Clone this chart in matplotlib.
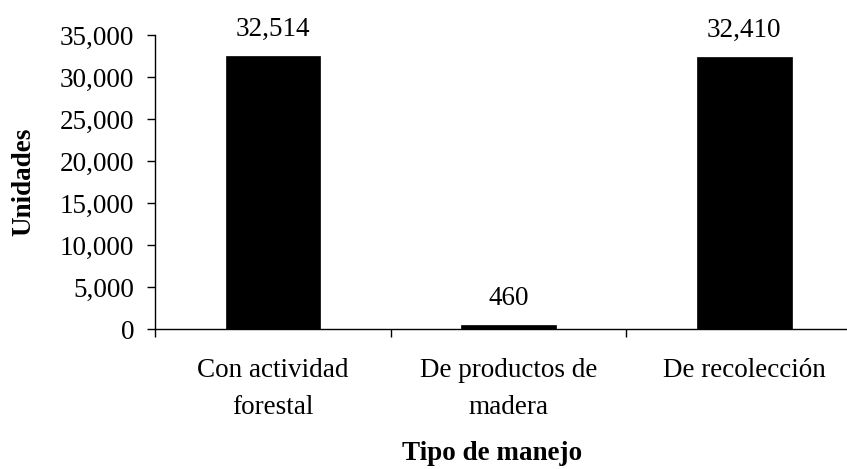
import matplotlib
matplotlib.use("Agg")
import matplotlib.pyplot as plt
from matplotlib.ticker import FuncFormatter, FixedLocator

categories = ["Con actividad\nforestal", "De productos de\nmadera", "De recolección"]
values = [32514, 460, 32410]
yticks = [0, 5000, 10000, 15000, 20000, 25000, 30000, 35000]

plt.rcParams["font.family"] = ["Liberation Serif", "DejaVu Serif"]
FS = 19.5

fig = plt.figure(figsize=(8.47, 4.69), dpi=100)
ax = fig.add_axes([0.183, 0.2985, 0.835, 0.6265])

x = list(range(len(categories)))
ax.bar(x, values, width=0.4, color="black", edgecolor="black", linewidth=0.5)

for xi, v in zip(x, values):
    ax.annotate(f"{v:,}", (xi, v), xytext=(0, 10), textcoords="offset points",
                ha="center", va="bottom", fontsize=FS)

ax.set_xlim(-0.5, len(categories) - 0.5)
ax.set_ylim(0, 35000)
ax.set_yticks(yticks)
ax.yaxis.set_major_formatter(FuncFormatter(lambda v, p: f"{int(v):,}"))

# Category boundaries carry the tick marks; labels sit at bar centres
ax.xaxis.set_major_locator(FixedLocator([i - 0.5 for i in range(len(categories) + 1)]))
ax.xaxis.set_major_formatter(FuncFormatter(lambda v, p: ""))
ax.xaxis.set_minor_locator(FixedLocator(x))
labels = ax.set_xticklabels(categories, minor=True)
for t in labels:
    t.set_linespacing(1.6)
ax.tick_params(axis="x", which="minor", length=0, pad=21, labelsize=FS)
ax.tick_params(axis="x", which="major", direction="out", length=6, width=1)
ax.tick_params(axis="y", direction="out", length=6, width=1, labelsize=FS, pad=9)

for side in ("top", "right"):
    ax.spines[side].set_visible(False)
ax.spines["left"].set_linewidth(1)
ax.spines["bottom"].set_linewidth(1)

ax.set_ylabel("Unidades", fontsize=FS, fontweight="bold", va="center")
ax.yaxis.set_label_coords((24 - 155) / (0.835 * 847), 0.5)
ax.set_xlabel("Tipo de manejo", fontsize=FS, fontweight="bold")
ax.xaxis.set_label_coords((492 - 155) / (0.835 * 847), -(453 - 329) / (0.6265 * 469))
ax.xaxis.label.set_va("center")

fig.savefig("out.png", dpi=100)
